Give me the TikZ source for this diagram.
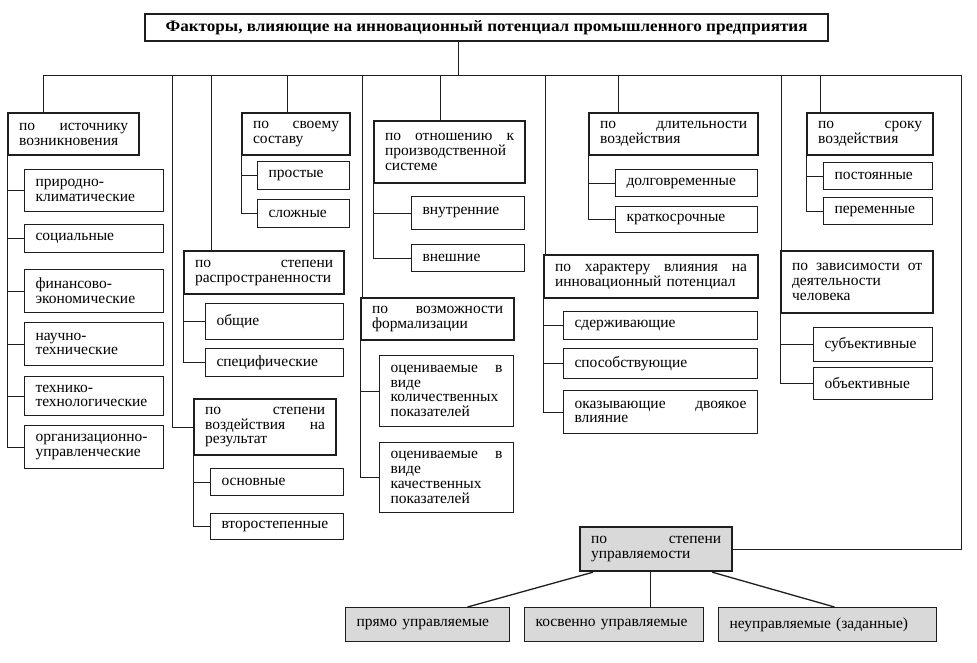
\documentclass[tikz,border=0pt]{standalone}
\usepackage{fontspec}
\setmainfont{Liberation Serif}
\usepackage{graphicx}
\definecolor{BoxGrey}{RGB}{217,217,217}
\definecolor{LineClr}{RGB}{30,30,30}
\newcommand{\gap}{\hspace{0pt plus 1filll}}

\begin{document}
\begin{tikzpicture}[x=1pt,y=-1pt,
  box/.style={draw=LineClr,anchor=north west,inner xsep=11pt,inner ysep=0pt,
    align=left,font=\fontsize{15.5}{14.8}\selectfont},
  hdr/.style={box,line width=2.2pt},
  leaf/.style={box,line width=1pt},
  grey/.style={fill=BoxGrey},
  link/.style={draw=LineClr,line width=0.9pt}]
\useasboundingbox (0,0) rectangle (977,663);

\node[hdr,minimum width=683pt,minimum height=27pt] (title) at (144,13)
  {\resizebox{642pt}{11pt}{\bfseries Факторы, влияющие на инновационный потенциал промышленного предприятия}};

\foreach \i/\x in {0/458,1/43,2/172,3/211,4/287,5/362,6/440,7/545,8/618,9/781,10/820,11/961}
  \coordinate (b\i) at (\x,75);

\node[hdr,text width=109pt,minimum height=42pt] (src) at (7,112) {по\gap источнику\\возникновения};
\node[leaf,text width=117pt,minimum height=42pt] (src1) at (24,169) {природно-\\климатические};
\node[leaf,text width=117pt,minimum height=28pt] (src2) at (24,224) {социальные};
\node[leaf,text width=117pt,minimum height=43pt] (src3) at (24,269) {финансово-\\экономические};
\node[leaf,text width=117pt,minimum height=43pt] (src4) at (24,322) {научно-\\технические};
\node[leaf,text width=117pt,minimum height=39pt] (src5) at (24,376) {технико-\\технологические};
\node[leaf,text width=117pt,minimum height=43pt] (src6) at (24,425) {организационно-\\управленческие};

\node[hdr,text width=120pt,minimum height=56pt] (res) at (193,398) {по\gap степени\\воздействия\gap на\\результат};
\node[leaf,text width=111pt,minimum height=27pt] (res1) at (210,468) {основные};
\node[leaf,text width=111pt,minimum height=26pt] (res2) at (210,513) {второстепенные};

\node[hdr,text width=138pt,minimum height=43pt] (spr) at (183,250) {по\gap степени\\распространенности};
\node[leaf,text width=116pt,minimum height=36pt] (spr1) at (205,303) {общие};
\node[leaf,text width=116pt,minimum height=28pt] (spr2) at (205,348) {специфические};

\node[hdr,text width=86pt,minimum height=42pt] (sos) at (241,112) {по\gap своему\\составу};
\node[leaf,text width=70pt,minimum height=28pt] (sos1) at (257,161) {простые};
\node[leaf,text width=70pt,minimum height=28pt] (sos2) at (257,199) {сложные};

\node[hdr,text width=131pt,minimum height=42pt] (frm) at (360,297) {по\gap возможности\\формализации};
\node[leaf,text width=112pt,minimum height=71pt] (frm1) at (379,355) {оцениваемые\gap в\\виде\\количественных\\показателей};
\node[leaf,text width=112pt,minimum height=70pt] (frm2) at (379,442) {оцениваемые\gap в\\виде\\качественных\\показателей};

\node[hdr,text width=129pt,minimum height=62pt] (sys) at (373,120) {по\gap отношению\gap к\\производственной\\системе};
\node[leaf,text width=91pt,minimum height=33pt] (sys1) at (411,196) {внутренние};
\node[leaf,text width=91pt,minimum height=27pt] (sys2) at (411,244) {внешние};

\node[hdr,text width=192pt,minimum height=43pt] (chr) at (543,254) {по\gap характеру\gap влияния\gap на\\инновационный потенциал};
\node[leaf,text width=172pt,minimum height=28pt] (chr1) at (563,311) {сдерживающие};
\node[leaf,text width=172pt,minimum height=30pt] (chr2) at (563,348) {способствующие};
\node[leaf,text width=172pt,minimum height=43pt] (chr3) at (563,390) {оказывающие\gap двоякое\\влияние};

\node[hdr,text width=147pt,minimum height=42pt] (dur) at (588,112) {по\gap длительности\\воздействия};
\node[leaf,text width=120pt,minimum height=27pt] (dur1) at (615,169) {долговременные};
\node[leaf,text width=120pt,minimum height=26pt] (dur2) at (615,206) {краткосрочные};

\node[hdr,text width=130pt,minimum height=62pt] (hum) at (780,250) {по\gap зависимости\gap от\\деятельности\\человека};
\node[leaf,text width=97pt,minimum height=34pt] (hum1) at (813,327) {субъективные};
\node[leaf,text width=97pt,minimum height=32pt] (hum2) at (813,367) {объективные};

\node[hdr,text width=104pt,minimum height=42pt] (trm) at (806,112) {по\gap сроку\\воздействия};
\node[leaf,text width=87pt,minimum height=27pt] (trm1) at (823,162) {постоянные};
\node[leaf,text width=87pt,minimum height=27pt] (trm2) at (823,197) {переменные};

\node[hdr,grey,text width=130pt,minimum height=44pt] (upr) at (579,526) {по\gap степени\\управляемости};
\node[leaf,grey,text width=142pt,minimum height=34pt] (upr1) at (345,607) {прямо управляемые};
\node[leaf,grey,text width=157pt,minimum height=34pt] (upr2) at (524,607) {косвенно управляемые};
\node[leaf,grey,text width=196pt,minimum height=34pt] (upr3) at (718,607) {неуправляемые (заданные)};

\draw[link] (b0) -- (b0 |- title.south);
\draw[link] (b1) -- (b11);
\draw[link] (b1) -- (b1 |- src.north);
\draw[link] (b2) |- (res.west);
\draw[link] (b3) -- (b3 |- spr.north);
\draw[link] (b4) -- (b4 |- sos.north);
\draw[link] (b5) -- (b5 |- frm.north);
\draw[link] (b6) -- (b6 |- sys.north);
\draw[link] (b7) -- (b7 |- chr.north);
\draw[link] (b8) -- (b8 |- dur.north);
\draw[link] (b9) -- (b9 |- hum.north);
\draw[link] (b10) -- (b10 |- trm.north);
\draw[link] (b11) |- (upr.east);

\foreach \g/\n in {src/6,res/2,spr/2,sos/2,frm/2,sys/2,chr/3,dur/2,hum/2,trm/2}{
  \draw[link] (\g.south west) -- (\g.south west |- \g\n.west);
  \foreach \k in {1,...,\n}
    \draw[link] (\g.south west |- \g\k.west) -- (\g\k.west);
}

\draw[link,line width=1.3pt] ([xshift=14pt]upr.south west) -- ([xshift=40pt]upr1.north);
\draw[link] ([xshift=-6pt]upr.south) -- ([xshift=-6pt]upr.south |- upr2.north);
\draw[link,line width=1.3pt] ([xshift=-21pt]upr.south east) -- ([xshift=7pt]upr3.north);
\end{tikzpicture}
\end{document}
